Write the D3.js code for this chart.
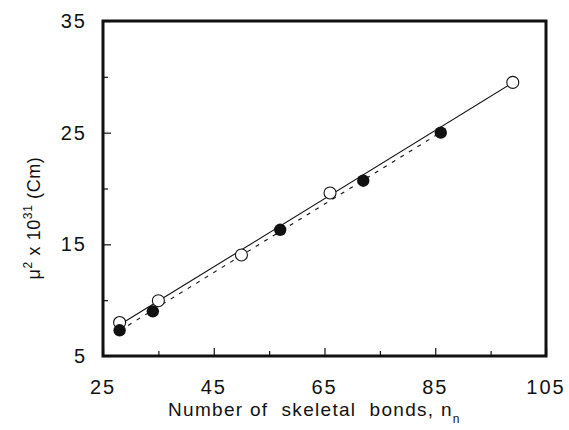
<!DOCTYPE html>
<html>
<head>
<meta charset="utf-8">
<script src="https://cdn.jsdelivr.net/npm/d3@7"></script>
<style>
  body { margin: 0; background: #fff; }
  svg { display: block; }
  text { font-family: "Liberation Sans", Arial, sans-serif; fill: #111; }
</style>
</head>
<body>
<script>
// Data
const openX = [28, 35, 50, 66, 99];
const openY = [8.0, 9.95, 14.05, 19.6, 29.5];
const filledX = [28, 34, 57, 72, 86];
const filledY = [7.3, 9.0, 16.3, 20.7, 25.0];
const xMajorTicks = [25, 45, 65, 85, 105];
const xMinorTicks = [35, 55, 75, 95];
const yMajorTicks = [5, 15, 25, 35];
const yMinorTicks = [10, 20, 30];

const W = 569, H = 430;
const margin = { left: 103, right: 23, top: 21, bottom: 74 };

const svg = d3.select("body").append("svg").attr("width", W).attr("height", H);

const x = d3.scaleLinear().domain([25, 105]).range([margin.left, W - margin.right]);
const y = d3.scaleLinear().domain([5, 35]).range([H - margin.bottom, margin.top]);

// least-squares fit
function fit(xs, ys) {
  const mx = d3.mean(xs), my = d3.mean(ys);
  let sxy = 0, sxx = 0;
  xs.forEach((v, i) => { sxy += (v - mx) * (ys[i] - my); sxx += (v - mx) * (v - mx); });
  const b = sxy / sxx, a = my - b * mx;
  return v => a + b * v;
}
const fOpen = fit(openX, openY);
const fFilled = fit(filledX, filledY);
const line = d3.line().x(d => x(d[0])).y(d => y(d[1]));

const ext1 = d3.extent(openX);
svg.append("path")
  .attr("d", line(ext1.map(v => [v, fOpen(v)])))
  .attr("fill", "none").attr("stroke", "#111").attr("stroke-width", 1.1);

const ext2 = d3.extent(filledX);
svg.append("path")
  .attr("d", line(ext2.map(v => [v, fFilled(v)])))
  .attr("fill", "none").attr("stroke", "#111").attr("stroke-width", 1.1)
  .attr("stroke-dasharray", "4,6");

// frame
const x0 = x(25), x1 = x(105), y0 = y(5), y1 = y(35);
svg.append("rect").attr("x", x0).attr("y", y1).attr("width", x1 - x0).attr("height", y0 - y1)
  .attr("fill", "none").attr("stroke", "#111").attr("stroke-width", 3);

// axes ticks (inward)
const xAxis = d3.axisBottom(x).tickValues(xMajorTicks).tickSize(-8).tickFormat("").tickSizeOuter(0);
const gx = svg.append("g").attr("transform", `translate(0,${y0})`).call(xAxis);
gx.select(".domain").remove();
gx.selectAll("line").attr("stroke", "#111").attr("stroke-width", 1.2);
const xAxisMinor = d3.axisBottom(x).tickValues(xMinorTicks).tickSize(-5).tickFormat("").tickSizeOuter(0);
const gxm = svg.append("g").attr("transform", `translate(0,${y0})`).call(xAxisMinor);
gxm.select(".domain").remove();
gxm.selectAll("line").attr("stroke", "#111").attr("stroke-width", 1.2);

const yAxis = d3.axisLeft(y).tickValues(yMajorTicks).tickSize(-8).tickFormat("").tickSizeOuter(0);
const gy = svg.append("g").attr("transform", `translate(${x0},0)`).call(yAxis);
gy.select(".domain").remove();
gy.selectAll("line").attr("stroke", "#111").attr("stroke-width", 1.2);
const yAxisMinor = d3.axisLeft(y).tickValues(yMinorTicks).tickSize(-5).tickFormat("").tickSizeOuter(0);
const gym = svg.append("g").attr("transform", `translate(${x0},0)`).call(yAxisMinor);
gym.select(".domain").remove();
gym.selectAll("line").attr("stroke", "#111").attr("stroke-width", 1.2);

// tick labels
svg.selectAll(".xl").data(xMajorTicks).enter().append("text")
  .attr("x", d => x(d)).attr("y", y0 + 38)
  .attr("text-anchor", "middle").attr("font-size", 20).attr("letter-spacing", 2)
  .text(d => d);
svg.selectAll(".yl").data(yMajorTicks).enter().append("text")
  .attr("x", x0 - 16).attr("y", d => y(d) + 7)
  .attr("text-anchor", "end").attr("font-size", 20).attr("letter-spacing", 2)
  .text(d => d);

// points
svg.selectAll(".op").data(openX).enter().append("circle")
  .attr("cx", d => x(d)).attr("cy", (d, i) => y(openY[i])).attr("r", 6)
  .attr("fill", "#fff").attr("stroke", "#111").attr("stroke-width", 1.1);
svg.selectAll(".fp").data(filledX).enter().append("circle")
  .attr("cx", d => x(d)).attr("cy", (d, i) => y(filledY[i])).attr("r", 6.2)
  .attr("fill", "#111");

// x title
const xt = svg.append("text").attr("x", 168).attr("y", 416)
  .attr("text-anchor", "start").attr("font-size", 19).attr("letter-spacing", 1.3)
  .attr("xml:space", "preserve");
xt.append("tspan").text("Number of  skeletal  bonds, n");
xt.append("tspan").attr("dy", 7).attr("font-size", 12).text("n");

// y title
const yt = svg.append("text").attr("transform", "translate(40,218) rotate(-90)")
  .attr("text-anchor", "middle").attr("font-size", 18).attr("letter-spacing", 0.6)
  .attr("xml:space", "preserve");
yt.append("tspan").text("μ");
yt.append("tspan").attr("dy", -8).attr("font-size", 12).text("2");
yt.append("tspan").attr("dy", 8).text(" x 10");
yt.append("tspan").attr("dy", -8).attr("font-size", 12).text("31");
yt.append("tspan").attr("dy", 8).text(" (Cm)");
</script>
</body>
</html>
